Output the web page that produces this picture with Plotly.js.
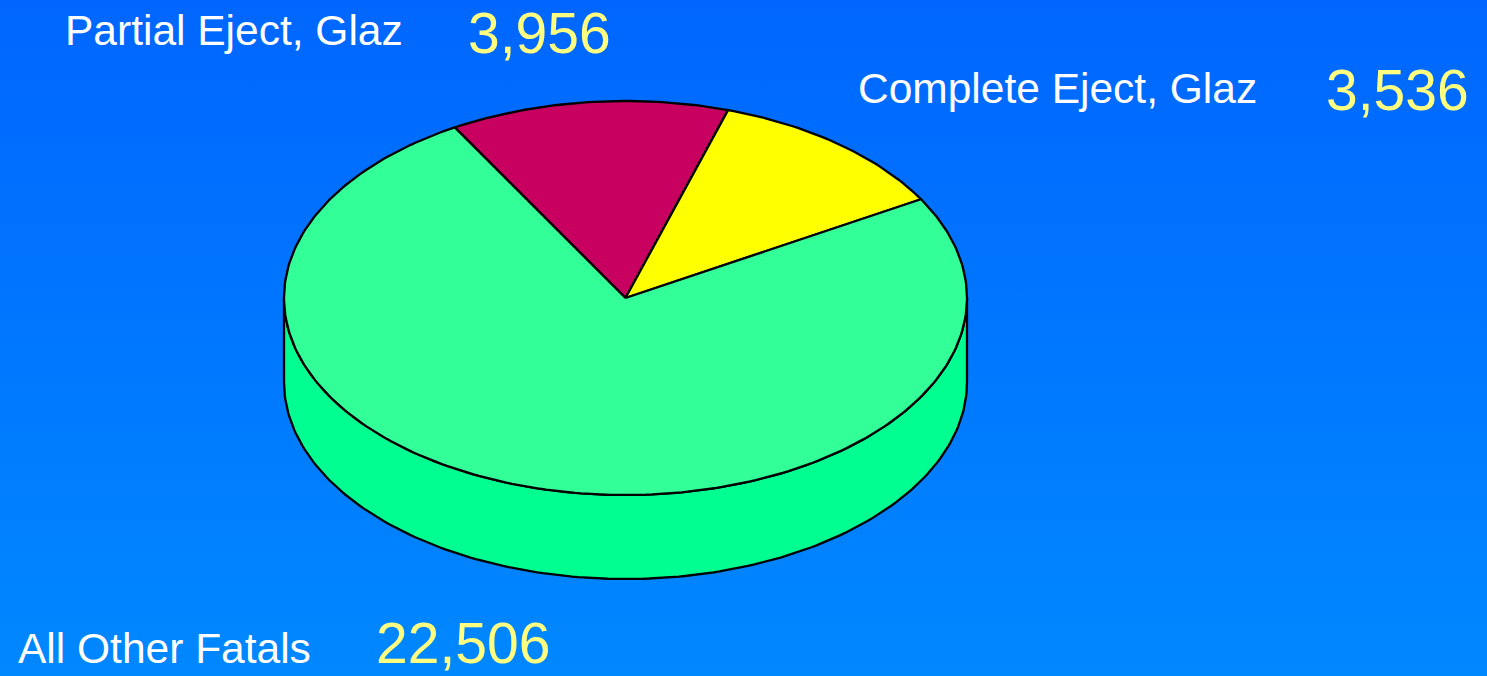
<!DOCTYPE html>
<html>
<head>
<meta charset="utf-8">
<script src="https://cdn.plot.ly/plotly-3.0.1.min.js"></script>
<style>
  html, body { margin: 0; padding: 0; width: 1487px; height: 676px; overflow: hidden;
    background: linear-gradient(to bottom, #0066FF 0%, #0088FF 100%); }
  #chart { width: 1487px; height: 676px; }
</style>
</head>
<body>
<div id="chart"></div>
<script>
// ---- data ----
const labels = ["Partial Eject, Glaz", "Complete Eject, Glaz", "All Other Fatals"];
const values = [3956, 3536, 22506];
const valueText = ["3,956", "3,536", "22,506"];
const topColors = ["#C8005F", "#FFFF00", "#33FF99"];
const sideColors = ["#A0004C", "#D8D800", "#00FF90"];

// ---- geometry / style (layout constants) ----
const W = 1487, H = 676;
const cx = 625.5, cy = 298, rx = 341.5, ry = 197, depth = 84;
const startDeg = 120; // slices run clockwise from here
const edge = { color: "#000000", width: 2.3 };

const total = values.reduce((a, b) => a + b, 0);
const rad = d => d * Math.PI / 180;
const px = a => cx + rx * Math.cos(rad(a));
const py = (a, off) => cy - ry * Math.sin(rad(a)) + (off || 0);

// slice angle spans
const spans = [];
let acc = startDeg;
values.forEach(v => { const sweep = v / total * 360; spans.push([acc, acc - sweep]); acc -= sweep; });

const traces = [];

// side wall: visible front half (angles 180..360) of each slice
spans.forEach((sp, i) => {
  const a0 = sp[0], a1 = sp[1];
  for (let k = -2; k <= 1; k++) {
    const lo = -180 + 360 * k, hi = 0 + 360 * k;
    const s = Math.min(a0, hi), e = Math.max(a1, lo);
    if (s > e) {
      const xs = [], ys = [];
      const n = Math.max(4, Math.ceil(s - e));
      for (let j = 0; j <= n; j++) { const a = s - (s - e) * j / n; xs.push(px(a)); ys.push(py(a)); }
      for (let j = n; j >= 0; j--) { const a = s - (s - e) * j / n; xs.push(px(a)); ys.push(py(a, depth)); }
      xs.push(xs[0]); ys.push(ys[0]);
      traces.push({ type: "scatter", mode: "lines", x: xs, y: ys, fill: "toself",
        fillcolor: sideColors[i], line: edge, hoverinfo: "skip", showlegend: false });
    }
  }
});

// top slices
spans.forEach((sp, i) => {
  const [a0, a1] = sp;
  const xs = [cx], ys = [cy];
  const n = Math.max(4, Math.ceil(a0 - a1));
  for (let j = 0; j <= n; j++) { const a = a0 - (a0 - a1) * j / n; xs.push(px(a)); ys.push(py(a)); }
  xs.push(cx); ys.push(cy);
  traces.push({ type: "scatter", mode: "lines", x: xs, y: ys, fill: "toself",
    fillcolor: topColors[i], line: edge, hoverinfo: "skip", showlegend: false, name: labels[i] });
});

// label annotations (positions in pixels -> paper)
const FONT = "Liberation Sans, Arial, sans-serif";
const labelPos = [
  { lx: 63, ly: 31, nx: 466, ny: 33 },
  { lx: 856, ly: 88, nx: 1324, ny: 90 },
  { lx: 16, ly: 648, nx: 374, ny: 643 }
];
const annotations = [];
labels.forEach((lab, i) => {
  const p = labelPos[i];
  annotations.push({ xref: "paper", yref: "paper", x: p.lx / W, y: 1 - p.ly / H, xanchor: "left", yanchor: "middle",
    text: lab, showarrow: false, font: { family: FONT, size: 42.5, color: "#FFFFFF" } });
  annotations.push({ xref: "paper", yref: "paper", x: p.nx / W, y: 1 - p.ny / H, xanchor: "left", yanchor: "middle",
    text: valueText[i], showarrow: false, font: { family: FONT, size: 57, color: "#FFFF80" } });
});

const layout = {
  width: W, height: H,
  margin: { l: 0, r: 0, t: 0, b: 0 },
  paper_bgcolor: "rgba(0,0,0,0)", plot_bgcolor: "rgba(0,0,0,0)",
  xaxis: { range: [0, W], visible: false, fixedrange: true },
  yaxis: { range: [H, 0], visible: false, fixedrange: true },
  showlegend: false,
  annotations: annotations
};

Plotly.newPlot("chart", traces, layout, { displayModeBar: false, staticPlot: true });
</script>
</body>
</html>
